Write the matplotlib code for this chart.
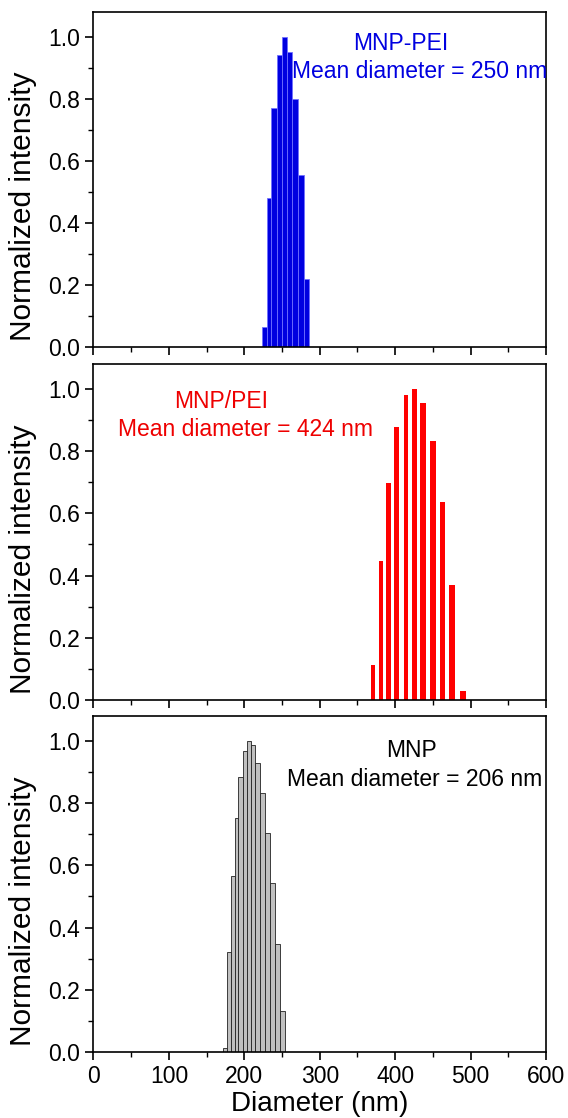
import numpy as np
import matplotlib
matplotlib.use("Agg")
import matplotlib.pyplot as plt
from matplotlib.ticker import MultipleLocator

plt.rcParams["font.family"] = ["Liberation Sans", "DejaVu Sans"]

# MNP-PEI (blue)
pei_d = [226.7, 232.7, 239.3, 246.2, 252.9, 259.9, 267.6, 275.1, 281.8]
pei_i = [0.065, 0.48, 0.77, 0.94, 1.0, 0.95, 0.80, 0.555, 0.22]
# MNP/PEI (red)
mix_d = [370.4, 380.8, 390.9, 402.1, 414.4, 425.3, 437.0, 450.2, 462.6, 475.5, 489.4]
mix_i = [0.113, 0.446, 0.697, 0.877, 0.979, 1.0, 0.956, 0.832, 0.636, 0.369, 0.029]
# MNP (grey)
mnp_d = [174.4, 179.5, 184.6, 189.6, 195.1, 201.1, 206.6, 211.9, 217.8, 224.3,
         230.5, 237.1, 244.0, 250.4]
mnp_i = [0.014, 0.32, 0.567, 0.753, 0.885, 0.966, 1.0, 0.986, 0.93, 0.833,
         0.704, 0.542, 0.348, 0.133]

fig = plt.figure(figsize=(5.68, 11.18), dpi=100)
left, width = 0.1646, 0.7967
ax1 = fig.add_axes([left, 0.6892, width, 0.3001])
ax2 = fig.add_axes([left, 0.3739, width, 0.3005])
ax3 = fig.add_axes([left, 0.0590, width, 0.3006])

ax1.bar(pei_d, pei_i, width=np.gradient(pei_d), color="#0000e0",
        edgecolor="#7070ff", linewidth=0.6)
ax2.bar(mix_d, mix_i, width=np.gradient(mix_d) * 0.56, color="#ff0000",
        linewidth=0)
ax3.bar(mnp_d, mnp_i, width=np.gradient(mnp_d), color="#c0c0c0",
        edgecolor="#222222", linewidth=0.6)

for ax in (ax1, ax2, ax3):
    ax.set_xlim(0, 600)
    ax.set_ylim(0, 1.08)
    ax.xaxis.set_major_locator(MultipleLocator(100))
    ax.xaxis.set_minor_locator(MultipleLocator(50))
    ax.yaxis.set_major_locator(MultipleLocator(0.2))
    ax.yaxis.set_minor_locator(MultipleLocator(0.1))
    ax.tick_params(which="major", direction="out", length=6, width=1.2, labelsize=16.5)
    ax.tick_params(which="minor", direction="out", length=3.5, width=1.0)
    ax.yaxis.set_major_formatter(matplotlib.ticker.FormatStrFormatter("%.1f"))
    ax.set_ylabel("Normalized intensity", fontsize=21.5, labelpad=5)
    ax.yaxis.set_label_coords(-0.125, 0.42)
    for s in ax.spines.values():
        s.set_linewidth(1.2)

ax1.tick_params(axis="x", labelbottom=False)
ax2.tick_params(axis="x", labelbottom=False)
ax3.set_xlabel("Diameter (nm)", fontsize=20, labelpad=2)

ax1.text(407, 0.977, "MNP-PEI", color="#0000e0", fontsize=16.5, ha="center", va="center")
ax1.text(432, 0.887, "Mean diameter = 250 nm", color="#0000e0", fontsize=16.5,
         ha="center", va="center")
ax2.text(169, 0.96, "MNP/PEI", color="#ee0000", fontsize=16.5, ha="center", va="center")
ax2.text(201, 0.87, "Mean diameter = 424 nm", color="#ee0000", fontsize=16.5,
         ha="center", va="center")
ax3.text(422, 0.968, "MNP", color="black", fontsize=16.5, ha="center", va="center")
ax3.text(426, 0.877, "Mean diameter = 206 nm", color="black", fontsize=16.5,
         ha="center", va="center")

fig.savefig("out.png", dpi=100)
